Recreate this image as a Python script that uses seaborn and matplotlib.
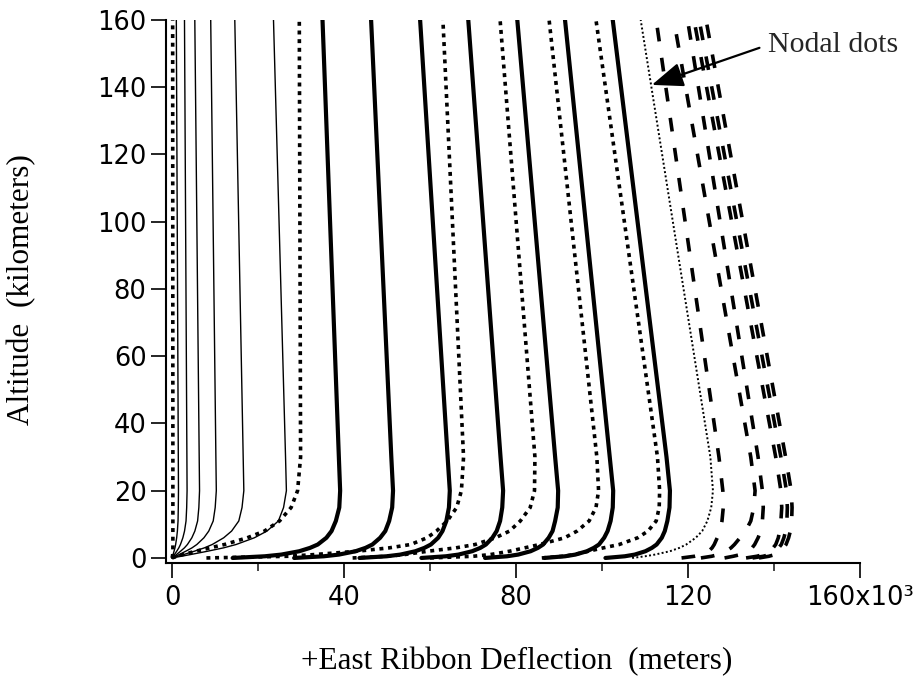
import matplotlib
matplotlib.use("Agg")
import matplotlib.pyplot as plt
import seaborn as sns

# Altitude levels (km) shared by every ribbon trace
ALTITUDE_KM = [0, 0.5, 1, 2, 3, 4, 6, 8, 11, 15, 20, 30, 160]

# East deflection (x10^3 m) of each ribbon at the altitude levels above
AXIS_DOTTED = [0, 0.1, 0.15, 0.2, 0.2, 0.2, 0.2, 0.2, 0.2, 0.2, 0.2, 0.2, 0.15]

THIN_TRACES = [
    [0, 0.12, 0.24, 0.47, 0.68, 0.84, 1.08, 1.25, 1.40, 1.46, 1.50, 1.46, 1.0],
    [0, 0.28, 0.56, 1.09, 1.58, 1.96, 2.52, 2.91, 3.26, 3.41, 3.50, 3.46, 2.9],
    [0, 0.51, 1.02, 1.98, 2.88, 3.58, 4.61, 5.31, 5.95, 6.24, 6.40, 6.32, 5.3],
    [0, 0.82, 1.65, 3.19, 4.64, 5.77, 7.42, 8.55, 9.58, 10.04, 10.3, 10.2, 9.0],
    [0, 1.34, 2.67, 5.18, 7.52, 9.35, 12.02, 13.86, 15.53, 16.28, 16.7, 16.55, 14.6],
    [0, 2.13, 4.26, 8.25, 11.97, 14.9, 19.15, 22.08, 24.74, 25.94, 26.6, 26.4, 23.6],
]

THICK_TRACES = [
    [14.1, 21.6, 25.4, 29.6, 32.1, 33.9, 35.9, 37.1, 38.1, 38.9, 39.1, 38.8, 35.0],
    [28.4, 35.3, 38.8, 42.7, 45.0, 46.6, 48.4, 49.6, 50.5, 51.2, 51.4, 51.0, 46.3],
    [43.6, 49.9, 53.1, 56.6, 58.7, 60.2, 61.9, 62.9, 63.8, 64.4, 64.6, 64.1, 57.7],
    [58.0, 63.7, 66.6, 69.8, 71.7, 73.0, 74.5, 75.5, 76.3, 76.8, 77.0, 76.4, 68.9],
    [72.8, 77.9, 80.5, 83.4, 85.1, 86.3, 87.6, 88.5, 89.1, 89.7, 89.8, 89.1, 80.3],
    [86.6, 91.4, 93.8, 96.5, 98.1, 99.3, 100.5, 101.3, 102.0, 102.5, 102.6, 101.8, 91.4],
    [100.8, 105.3, 107.6, 110.1, 111.6, 112.7, 113.9, 114.6, 115.2, 115.7, 115.8, 115.0, 102.5],
]

DOTTED_TRACES = [
    [0, 1.2, 2.5, 5.5, 8.8, 12.2, 17.5, 21.5, 25.0, 27.7, 29.2, 29.9, 29.6],
    [8, 27, 33, 43, 50.5, 55.5, 59.3, 61.5, 64.0, 66.2, 67.3, 67.8, 63.0],
    [42, 50, 54, 59.5, 66.0, 70.5, 75.2, 78.5, 81.0, 83.3, 84.3, 84.4, 76.3],
    [60, 70, 74, 78.5, 82.0, 85.5, 91.3, 94.2, 97.0, 98.6, 99.2, 98.8, 87.7],
    [86, 91, 93.5, 96.8, 100.3, 104.0, 108.3, 110.7, 112.6, 113.3, 113.4, 112.9, 98.6],
]

NODAL_TRACE = [107, 110, 112.3, 115.8, 118.0, 119.6, 121.8, 123.3, 124.5, 125.4, 125.8, 125.2, 109.0]

DASHED_TRACES = [
    [118.5, 121.5, 123.2, 124.8, 125.6, 126.1, 126.8, 127.4, 127.9, 128.2, 128.1, 127.2, 112.6],
    [123.0, 125.5, 127.0, 128.8, 130.0, 130.8, 132.1, 133.4, 134.6, 135.3, 135.6, 134.6, 116.7],
    [128.5, 130.5, 132.2, 134.0, 134.9, 135.5, 136.3, 136.9, 137.3, 137.5, 137.3, 136.3, 119.9],
    [133.5, 136.0, 137.5, 139.0, 139.8, 140.4, 141.0, 141.3, 141.6, 141.8, 141.6, 140.4, 121.4],
    [135.0, 137.5, 139.0, 140.3, 141.1, 141.7, 142.3, 142.7, 143.0, 143.1, 142.9, 141.6, 122.6],
    [136.5, 138.8, 140.2, 141.4, 142.2, 142.8, 143.4, 143.8, 144.1, 144.2, 144.0, 142.7, 124.2],
]

X_TICKS = [0, 40, 80, 120, 160]
X_TICK_LABELS = ["0", "40", "80", "120", "160x10\u00b3"]
X_MINOR_TICKS = [20, 60, 100, 140]
Y_TICKS = [0, 20, 40, 60, 80, 100, 120, 140, 160]

sns.set_style("ticks")
plt.rcParams["font.family"] = ["DejaVu Sans"]
plt.rcParams["axes.linewidth"] = 1.5

fig = plt.figure(figsize=(9.22, 6.83), dpi=100)
ax = fig.add_axes([166 / 922, 120 / 683, 694 / 922, 543 / 683])

styles = {
    "thin": dict(linewidth=1.0, linestyle="-"),
    "thick": dict(linewidth=3.0, linestyle="-"),
    "dotted": dict(linewidth=2.6, linestyle=(0, (1.1, 1.3))),
    "nodal": dict(linewidth=1.4, linestyle=(0, (1.0, 1.2))),
    "dashed": dict(linewidth=2.6, linestyle=(0, (3.8, 4.6))),
}


def draw(trace, kind):
    sns.lineplot(x=trace, y=ALTITUDE_KM, sort=False, estimator=None, ax=ax,
                 color="black", **styles[kind])


draw(AXIS_DOTTED, "dotted")
for tr in THIN_TRACES:
    draw(tr, "thin")
for tr in THICK_TRACES:
    draw(tr, "thick")
for tr in DOTTED_TRACES:
    draw(tr, "dotted")
draw(NODAL_TRACE, "nodal")
for tr in DASHED_TRACES:
    draw(tr, "dashed")

ax.set_xlim(-1.4, 160)
ax.set_ylim(-1.5, 160)
ax.set_xticks(X_TICKS)
ax.set_xticklabels(X_TICK_LABELS)
ax.set_xticks(X_MINOR_TICKS, minor=True)
ax.set_yticks(Y_TICKS)
ax.set_yticklabels([str(v) for v in Y_TICKS])
sns.despine(ax=ax)
ax.tick_params(which="major", length=11, width=1.2, direction="out",
               labelsize=18.5, colors="black")
ax.tick_params(axis="y", which="major", pad=3)
ax.tick_params(axis="x", which="major", pad=5)
ax.tick_params(which="minor", length=6, width=1.2, direction="out")
for s in ("left", "bottom"):
    ax.spines[s].set_color("black")

ax.set_xlabel("+East Ribbon Deflection  (meters)", family="Liberation Serif",
              fontsize=22.5, color="black")
ax.xaxis.set_label_coords(351 / 694, -99 / 543)
ax.xaxis.label.set_va("center")
ax.set_ylabel("Altitude  (kilometers)", family="Liberation Serif",
              fontsize=22.5, color="black")
ax.yaxis.set_label_coords(-144 / 694, 273 / 543)
ax.yaxis.label.set_va("center")

ax.annotate("Nodal dots", xy=(111.6, 140.7), xytext=(138.6, 152.6),
            ha="left", va="center", fontsize=21.5, family="Liberation Serif",
            arrowprops=dict(arrowstyle="-|>,head_length=0.9,head_width=0.35",
                            color="black", lw=1.6, shrinkA=4, shrinkB=0,
                            relpos=(0.0, 0.5)))

fig.savefig("out.png", dpi=100)
